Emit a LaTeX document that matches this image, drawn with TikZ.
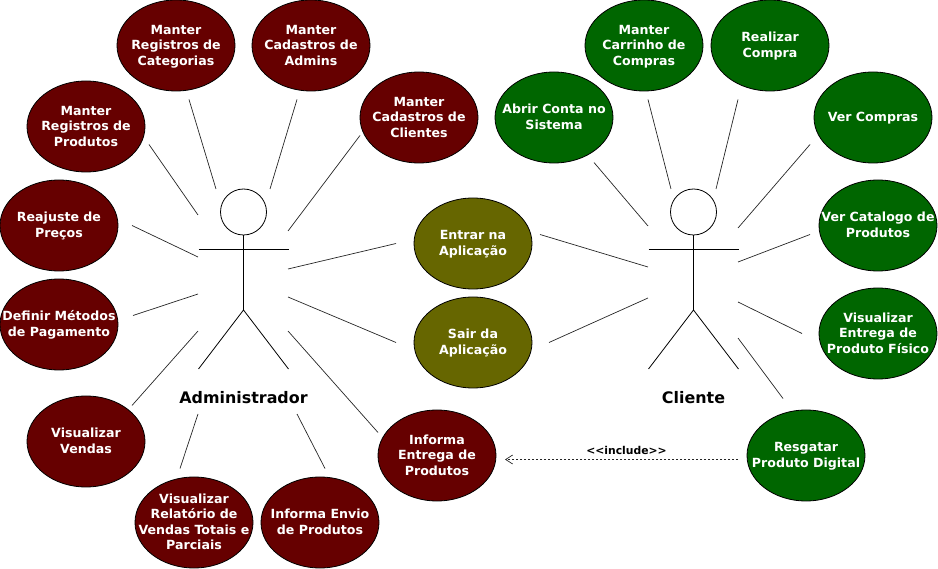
\documentclass[tikz,border=0pt]{standalone}
\usepackage{fontspec}
\setmainfont{DejaVu Sans}
\usetikzlibrary{calc,arrows.meta,shapes.geometric}
\tikzset{
  uc/.style={ellipse,draw=black,line width=0.8pt,minimum width=118pt,minimum height=91pt,inner sep=0pt,
    text=white,font=\bfseries\fontsize{12.6pt}{15.5pt}\selectfont},
  red/.style={uc,fill=ucred},
  grn/.style={uc,fill=ucgreen},
  olv/.style={uc,fill=ucolive},
  limb/.style={draw=black,line width=0.8pt},
  assoc/.style={draw=black!85,line width=0.7pt},
  actorname/.style={font=\bfseries\fontsize{15.9pt}{18pt}\selectfont,inner sep=0pt},
  head/.style={circle,draw=black,line width=0.8pt,minimum size=46pt,inner sep=0pt},
}
\definecolor{ucred}{HTML}{660000}
\definecolor{ucgreen}{HTML}{006600}
\definecolor{ucolive}{HTML}{666600}
\newcommand{\ut}[1]{\makebox[0pt]{\raisebox{-4pt}[0pt][0pt]{\begin{tabular}{@{}c@{}}#1\end{tabular}}}}
\newcommand{\conn}[6]{\draw[assoc] ($(#1)+(#2,#3)$) -- ($(#4)+(#5,#6)$);}
\newcommand{\actor}[1]{%
  \draw[limb] (#1.south) -- ++(0,75);
  \draw[limb] ($(#1)+(-45,37)$) -- ($(#1)+(45,37)$);
  \draw[limb] ($(#1)+(-45,157)$) -- ($(#1)+(0,98)$) -- ($(#1)+(45,157)$);}
\begin{document}
\begin{tikzpicture}[x=1pt,y=-1pt]
\useasboundingbox (0,0) rectangle (938,569);
\node[red] (cat) at (176,45.5) {\ut{Manter\\Registros de\\Categorias}};
\node[red] (adm) at (311,45.5) {\ut{Manter\\Cadastros de\\Admins}};
\node[red] (cli) at (419,117.5) {\ut{Manter\\Cadastros de\\Clientes}};
\node[red] (prod) at (86,126.5) {\ut{Manter\\Registros de\\Produtos}};
\node[red] (rea) at (59,225.5) {\ut{Reajuste de\\Preços}};
\node[red] (pag) at (59,324.5) {\ut{Definir Métodos\\de Pagamento}};
\node[red] (ven) at (86,441.5) {\ut{Visualizar\\Vendas}};
\node[red] (rel) at (194,522.5) {\ut{Visualizar\\Relatório de\\Vendas Totais e\\Parciais}};
\node[red] (env) at (320,522.5) {\ut{Informa Envio\\de Produtos}};
\node[red] (ent) at (437,455.5) {\ut{Informa\\Entrega de\\Produtos}};
\node[olv] (in) at (473,243.5) {\ut{Entrar na\\Aplicação}};
\node[olv] (out) at (473,342.5) {\ut{Sair da\\Aplicação}};
\node[grn] (abr) at (554,117.5) {\ut{Abrir Conta no\\Sistema}};
\node[grn] (car) at (644,45.5) {\ut{Manter\\Carrinho de\\Compras}};
\node[grn] (com) at (770,45.5) {\ut{Realizar\\Compra}};
\node[grn] (ver) at (873,117.5) {\ut{Ver Compras}};
\node[grn] (ctl) at (878,225.5) {\ut{Ver Catalogo de\\Produtos}};
\node[grn] (vis) at (878,333.5) {\ut{Visualizar\\Entrega de\\Produto Físico}};
\node[grn] (res) at (806,455.5) {\ut{Resgatar\\Produto Digital}};
\node[head] (ah) at (243.5,212) {};
\node[head] (ch) at (693.5,212) {};
\actor{ah}
\actor{ch}
\node[actorname] (an) at (243.5,398) {Administrador};
\node[actorname] (cn) at (693.5,398) {Cliente};
% Administrador
\conn{cat}{13}{54}{ah}{-27.5}{-23}
\conn{adm}{-14}{54}{ah}{26.5}{-23}
\conn{cli}{-59}{18}{ah}{44.5}{19}
\conn{prod}{63}{18}{ah}{-45.5}{3}
\conn{rea}{73}{0}{ah}{-45.5}{45}
\conn{pag}{74}{-9}{ah}{-45.5}{82}
\conn{ven}{46}{-36}{ah}{-45.5}{119}
\conn{rel}{-14}{-54}{ah}{-45.5}{202}
\conn{env}{5}{-54}{ah}{53.5}{202}
\conn{ent}{-59}{-23}{ah}{44.5}{119}
\conn{in}{-77}{0}{ah}{44.5}{57}
\conn{out}{-77}{0}{ah}{44.5}{85}
% Cliente
\conn{abr}{40}{45}{ch}{-45.5}{14}
\conn{car}{4}{54}{ch}{-22.5}{-23}
\conn{com}{-32}{54}{ch}{22.5}{-23}
\conn{ver}{-63}{27}{ch}{44.5}{16}
\conn{ctl}{-68}{9}{ch}{44.5}{50}
\conn{in}{67}{-9}{ch}{-45.5}{55}
\conn{out}{76}{0}{ch}{-45.5}{86}
\conn{vis}{-76}{0}{ch}{44.5}{90}
\conn{res}{-23}{-57}{ch}{44.5}{126}
% include
\draw[assoc,dash pattern=on 2.5pt off 1.5pt,-{Straight Barb[length=7pt,width=9pt]}] ($(res)+(-68,4)$) -- node[above=3pt,xshift=5pt,font=\bfseries\fontsize{10.8pt}{12pt}\selectfont,text=black,inner sep=1pt] (inc) {{<}{<}include{>}{>}} ($(ent)+(68,4)$);
\end{tikzpicture}
\end{document}
